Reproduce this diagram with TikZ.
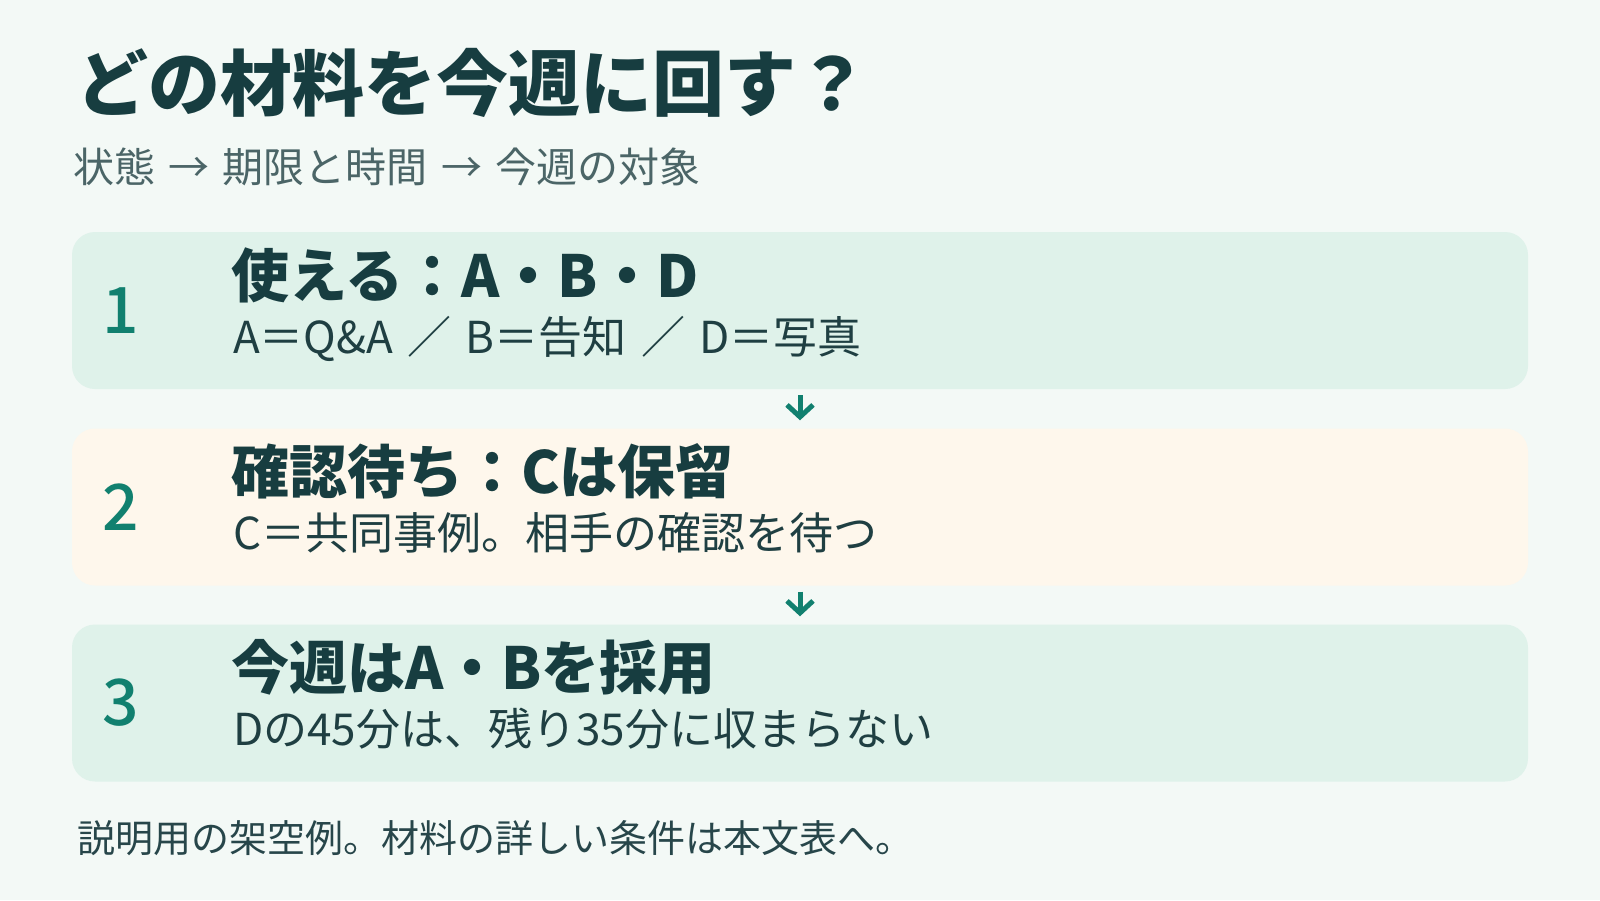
\documentclass[tikz,border=0pt]{standalone}
\usepackage{fontspec}
\setmainfont{Noto Sans CJK JP}[WordSpace=1.45]
\newfontfamily\numfont{Noto Sans CJK JP Medium}
\usetikzlibrary{arrows.meta}
\definecolor{bgpaper}{HTML}{F3F9F6}
\definecolor{mintcard}{HTML}{DFF2EA}
\definecolor{creamcard}{HTML}{FEF7EC}
\definecolor{ink}{HTML}{173D40}
\definecolor{subink}{HTML}{1F3F42}
\definecolor{greyink}{HTML}{4B6567}
\definecolor{noteink}{HTML}{27464A}
\definecolor{numteal}{HTML}{11806F}
\begin{document}
\begin{tikzpicture}[x=1pt,y=-1pt,
	stepcard/.style={rounded corners=23pt,minimum width=1456pt,minimum height=157pt,inner sep=0pt},
	stepnum/.style={inner sep=0pt,text=numteal,font=\fontsize{64}{70}\selectfont\numfont},
	stephead/.style={anchor=base west,inner sep=0pt,text=ink,font=\fontsize{58}{64}\selectfont\bfseries},
	stepsub/.style={anchor=base west,inner sep=0pt,text=subink,font=\fontsize{44}{50}\selectfont},
	flowarrow/.style={draw=numteal,line width=5pt,-{Straight Barb[length=12pt,width=26pt]},shorten <=6pt,shorten >=8pt}]
		\useasboundingbox (0,0) rectangle (1600,900);
		\fill[bgpaper] (0,0) rectangle (1600,900);

		\node[anchor=base west,inner sep=0pt,text=ink,font=\fontsize{72}{80}\selectfont\bfseries] (title) at (76,110) {どの材料を今週に回す？};
		\node[anchor=base west,inner sep=0pt,text=greyink,font=\fontsize{41}{46}\selectfont] (subtitle) at (73,182) {状態 → 期限と時間 → 今週の対象};

		\node[stepcard,fill=mintcard]  (card1) at (800,310.5) {};
		\node[stepcard,fill=creamcard] (card2) at (800,507)   {};
		\node[stepcard,fill=mintcard]  (card3) at (800,703)   {};

		\node[stepnum] (n1) at (121,310.5) {1};
		\node[stepnum] (n2) at (121,507)   {2};
		\node[stepnum] (n3) at (121,703)   {3};

		\node[stephead] (h1) at (231,297) {使える：A・B・D};
		\node[stepsub]  (s1) at (233,353) {A＝Q\&A ／ B＝告知 ／ D＝写真};
		\node[stephead] (h2) at (231,493) {確認待ち：Cは保留};
		\node[stepsub]  (s2) at (233,549) {C＝共同事例。相手の確認を待つ};
		\node[stephead] (h3) at (231,689) {今週はA・Bを採用};
		\node[stepsub]  (s3) at (233,745) {Dの45分は、残り35分に収まらない};

		\foreach \from/\to in {card1/card2,card2/card3}
			\draw[flowarrow] (\from.south) -- (\to.north);

		\node[anchor=base west,inner sep=0pt,text=noteink,font=\fontsize{38}{44}\selectfont] (note) at (77,852) {説明用の架空例。材料の詳しい条件は本文表へ。};
	\end{tikzpicture}
\end{document}
